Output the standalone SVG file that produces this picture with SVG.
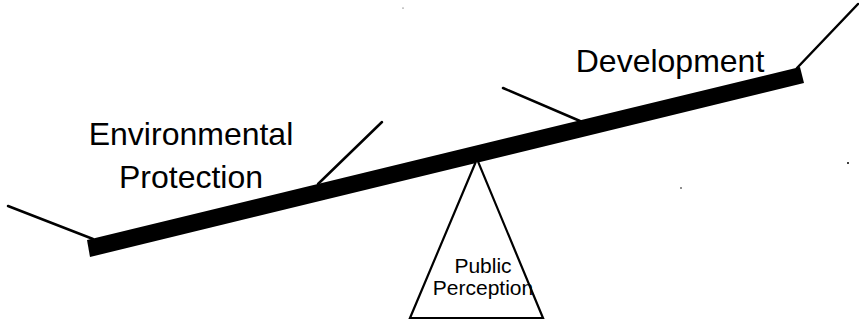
<svg xmlns="http://www.w3.org/2000/svg" width="859" height="322" viewBox="0 0 859 322">
<style>
.arm{stroke:#000;stroke-width:2.5;fill:none;stroke-linecap:round}
.lbl{font-family:"Liberation Sans",Arial,sans-serif;fill:#000;text-anchor:middle}
.big{font-size:32px}
.small{font-size:21px}
</style>
<rect width="859" height="322" fill="#fff"/>
<g id="beam">
<polygon points="87,240 90,257 804,83 800,67" fill="#000"/>
</g>
<g id="connectors">
<line class="arm" x1="8" y1="206" x2="93" y2="239"/>
<line class="arm" x1="318" y1="184" x2="382" y2="122"/>
<line class="arm" x1="503" y1="88" x2="580" y2="121"/>
<line class="arm" x1="797" y1="68" x2="858" y2="4"/>
</g>
<g id="fulcrum">
<polygon points="477,159 410,318 543,318" fill="#fff" stroke="#000" stroke-width="2.2" stroke-linejoin="miter"/>
<text class="lbl small" x="483" y="273">Public</text>
<text class="lbl small" x="483" y="295">Perception</text>
</g>
<g id="environmental">
<text class="lbl big" x="191" y="145">Environmental</text>
<text class="lbl big" x="191" y="188">Protection</text>
</g>
<g id="development">
<text class="lbl big" x="670" y="72">Development</text>
</g>
<g id="specks" fill="#000">
<circle cx="848" cy="163" r="1"/>
<circle cx="681" cy="188" r="0.8"/>
<circle cx="403" cy="8" r="0.5"/>
</g>
</svg>
